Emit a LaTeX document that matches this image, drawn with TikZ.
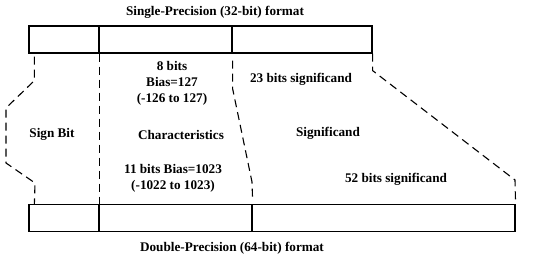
\documentclass[tikz,border=0pt]{standalone}
\usepackage{fontspec}
\setmainfont{Liberation Serif}
\usetikzlibrary{positioning}

\tikzset{
    field/.style={draw, line width=1.2pt, inner sep=0pt, minimum height=27pt},
    guide/.style={line width=1.1pt, dash pattern=on 8pt off 5pt},
    lbl/.style={font=\bfseries\fontsize{13.2}{16}\selectfont, align=center}
}

\begin{document}
\begin{tikzpicture}[x=1pt, y=-1pt]
    \useasboundingbox (0,0) rectangle (550,261);

    % ============================================================
    % SINGLE PRECISION WORD
    % ============================================================
    \node[field, minimum width=70pt]  (s32) at (64,39.5) {};
    \node[field, minimum width=133pt] (e32) at (165.5,39.5) {};
    \node[field, minimum width=140pt] (m32) at (302,39.5) {};
    \node[lbl] (t32) at (215,12) {Single-Precision (32-bit) format};

    % ============================================================
    % DOUBLE PRECISION WORD
    % ============================================================
    \node[field, minimum width=70pt]  (s64) at (64,218) {};
    \node[field, minimum width=153pt] (e64) at (175.5,218) {};
    \node[field, minimum width=263pt] (m64) at (383.5,218) {};
    \node[lbl] (t64) at (232,248) {Double-Precision (64-bit) format};

    % ============================================================
    % DASHED GUIDES BETWEEN THE FIELDS
    % ============================================================
    \draw[guide] ([xshift=6pt,yshift=-3pt]s32.south west) -- ++(0,24)
        -- (6,108) -- (6,163) -- (35,183) -- ([xshift=6pt]s64.north west);
    \draw[guide] (s32.south east) -- (s64.north east);
    \draw[guide] ([yshift=-7pt]e32.south east) -- ++(0,28)
        -- (252,182) -- ([yshift=4pt]e64.north east);
    \draw[guide] (m32.south east) -- ++(0,17)
        -- (515,180) -- (m64.north east);

    % ============================================================
    % FIELD LABELS
    % ============================================================
    \node[lbl] (exp32) at (172,83) {8 bits\\Bias=127\\(-126 to 127)};
    \node[lbl] (man32) at (301,79) {23 bits significand};
    \node[lbl] (sign)  at (52,134) {Sign Bit};
    \node[lbl] (char)  at (181,135) {Characteristics};
    \node[lbl] (sig)   at (328,133) {Significand};
    \node[lbl] (exp64) at (173,178.5) {11 bits Bias=1023\\(-1022 to 1023)};
    \node[lbl] (man64) at (396,179) {52 bits significand};

\end{tikzpicture}
\end{document}
